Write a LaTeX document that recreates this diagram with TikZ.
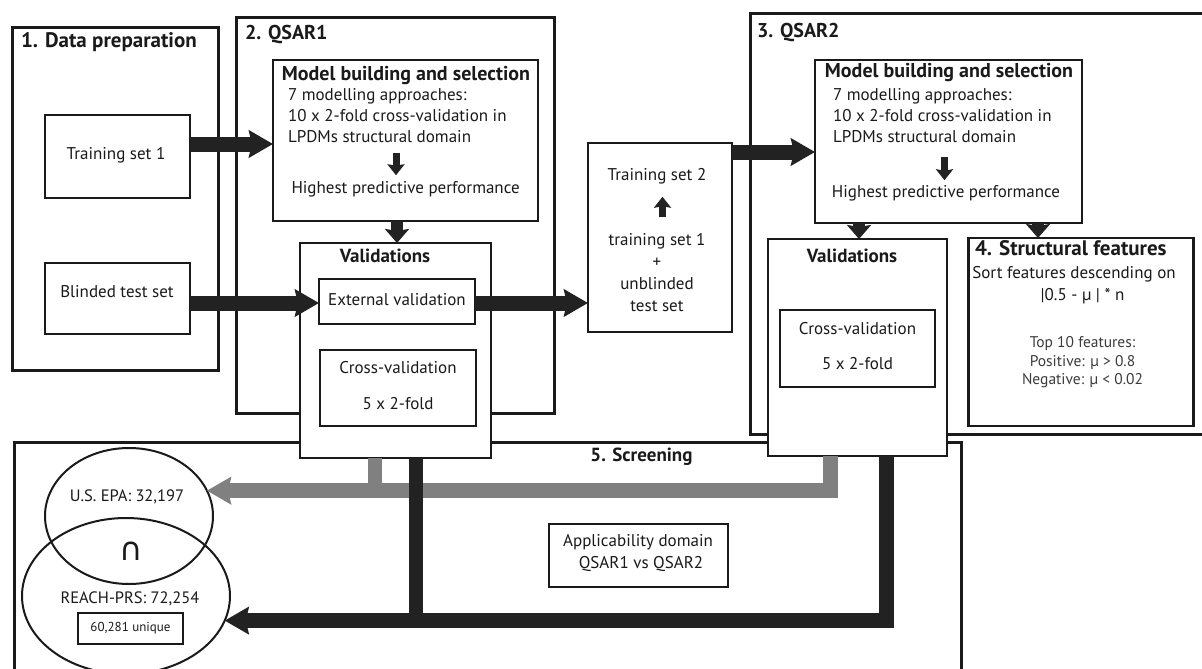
\documentclass[tikz,border=0pt]{standalone}
\usepackage{fontspec}
\setmainfont{PT Sans}
\newfontfamily\symfont{DejaVu Sans}
\usetikzlibrary{arrows.meta,calc,shapes.geometric}
\definecolor{ink}{HTML}{1A1A1A}
\definecolor{arrowink}{HTML}{222222}
\definecolor{grayink}{HTML}{808080}
\begin{document}
\begin{tikzpicture}[x=1pt,y=-1pt,
  every node/.style={inner sep=0pt, outer sep=0pt, text=ink},
  at box/.style n args={4}{minimum width={(#3)-(#1)}, minimum height={(#4)-(#2)}, at={({((#1)+(#3))/2},{((#2)+(#4))/2})}},
  frame/.style={draw=ink, line width=3pt, rectangle},
  innerbox/.style={draw=ink, line width=2.6pt, fill=white, rectangle},
  thinbox/.style={draw=ink, line width=1.5pt, fill=white, rectangle},
  txt/.style={font=\fontsize{17}{20}\selectfont, text height=12pt, text depth=3.5pt},
  settxt/.style={font=\fontsize{16.5}{19}\selectfont, text height=12pt, text depth=3.5pt},
  lighttxt/.style={font=\fontsize{15.5}{18}\selectfont, text height=11pt, text depth=3pt, text=ink!85},
  smalltxt/.style={font=\fontsize{13}{16}\selectfont, text height=9pt, text depth=3pt},
  title/.style={font=\bfseries\fontsize{20}{23}\selectfont, text height=13.5pt, text depth=4.5pt},
  bigtitle/.style={font=\bfseries\fontsize{21}{24}\selectfont, text height=14pt, text depth=4.5pt},
  subtitle/.style={font=\bfseries\fontsize{19}{22}\selectfont, text height=13pt, text depth=4.5pt},
  set/.style={draw=ink, line width=2pt, ellipse},
  bigarrow/.style={draw=arrowink, line width=15pt, -{Stealth[length=24pt,width=27pt,inset=3pt]}},
  grayarrow/.style={draw=grayink, line width=15pt, line join=miter, -{Stealth[length=24pt,width=27pt,inset=3pt]}},
  blackarrow/.style={draw=arrowink, line width=15pt, line join=miter, -{Stealth[length=24pt,width=27pt,inset=3pt]}},
  grayline/.style={draw=grayink, line width=14pt},
  blackline/.style={draw=arrowink, line width=14pt},
  midarrow/.style={draw=arrowink, line width=12.5pt, -{Stealth[length=14pt,width=24pt,inset=2pt]}},
  smallarrow/.style={draw=arrowink, line width=7pt, -{Stealth[length=11pt,width=17pt,inset=1.5pt]}}
]
\useasboundingbox (0,0) rectangle (1202,669);
\fill[white] (0,0) rectangle (1202,669);

% container frames
\node[frame, at box={12}{28}{218}{370}] (b1) {};
\node[frame, at box={236.5}{18}{554}{413}] (b2) {};
\node[frame, at box={750}{14}{1215}{434}] (b3) {};
\node[frame, at box={14}{442}{961}{690}] (b5) {};

\node[bigtitle, anchor=west] (t1) at (21,43) {1. Data preparation};
\node[title, anchor=west] (t2) at (245,35) {2. QSAR1};
\node[title, anchor=west] (t3) at (757,33) {3. QSAR2};
\node[subtitle] (t5) at (641.5,457) {5. Screening};

% data preparation
\node[innerbox, at box={45}{115}{190}{198}] (ts1) {};
\node[txt] (ts1t) at (116,155) {Training set 1};
\node[innerbox, at box={45}{263}{190}{334}] (blind) {};
\node[txt] (blindt) at (117,293) {Blinded test set};

% QSAR1
\node[innerbox, at box={273}{60}{538}{221}] (m1box) {};
\node[title] (m1t) at (406,76) {Model building and selection};
\node[txt, anchor=west] (m1a) at (288,96) {7 modelling approaches:};
\node[txt, anchor=west] (m1b) at (288,117) {10 x 2-fold cross-validation in};
\node[txt, anchor=west] (m1c) at (288,138) {LPDMs structural domain};
\node[txt] (h1) at (405.6,189) {Highest predictive performance};

\node[innerbox, at box={300}{243}{491}{458}] (val1) {};
\node[subtitle] (v1t) at (385,258) {Validations};
\node[innerbox, at box={319}{279}{475}{324}] (ext) {};
\node[txt] (extt) at (397,301) {External validation};
\node[innerbox, at box={320}{350}{476}{426}] (cv1) {};
\node[txt] (cv1a) at (398,369) {Cross-validation};
\node[txt] (cv1b) at (398,405) {5 x 2-fold};

% training set 2
\node[innerbox, at box={588}{143}{732}{332}] (ts2) {};
\node[txt] (ts2a) at (657,176) {Training set 2};
\node[txt] (ts2b) at (657,241) {training set 1};
\node[txt] (ts2c) at (657,263) {+};
\node[txt] (ts2d) at (657,285) {unblinded};
\node[txt] (ts2e) at (657,307) {test set};

% QSAR2
\node[innerbox, at box={815}{60}{1082}{223}] (m2box) {};
\node[title] (m2t) at (949,73) {Model building and selection};
\node[txt, anchor=west] (m2a) at (833,96) {7 modelling approaches:};
\node[txt, anchor=west] (m2b) at (833,117) {10 x 2-fold cross-validation in};
\node[txt, anchor=west] (m2c) at (833,138) {LPDMs structural domain};
\node[txt] (h2) at (946,193) {Highest predictive performance};

\node[innerbox, at box={768}{239}{947}{456}] (val2) {};
\node[subtitle] (v2t) at (852,258) {Validations};
\node[innerbox, at box={780}{310}{935}{387}] (cv2) {};
\node[txt] (cv2a) at (857.5,330) {Cross-validation};
\node[txt] (cv2b) at (857.5,365) {5 x 2-fold};

% structural features
\node[innerbox, at box={968.5}{238}{1193.5}{426}] (struct) {};
\node[bigtitle, anchor=west] (s4t) at (975,251) {4. Structural features};
\node[txt] (s4a) at (1074,274) {Sort features descending on};
\node[txt] (s4b) at (1082.5,296) {|0.5 - µ | * n};
\node[lighttxt] (s4c) at (1082.5,343) {Top 10 features:};
\node[lighttxt] (s4d) at (1082.5,362) {Positive: µ > 0.8};
\node[lighttxt] (s4e) at (1082.5,380) {Negative: µ < 0.02};

% screening
\node[innerbox, line width=2.3pt, at box={549}{524}{728}{587}] (adbox) {};
\node[txt] (ada) at (638,542) {Applicability domain};
\node[txt] (adb) at (641,564) {QSAR1 vs QSAR2};

\node[set, minimum width=168, minimum height=136] (epa) at (129,516) {};
\node[set, minimum width=208, minimum height=156] (reach) at (126,596) {};
\node[settxt] (epat) at (127,497) {U.S. EPA: 32,197};
\node[font=\symfont\fontsize{32}{34}\selectfont] (capsym) at (131,551) {∩};
\node[settxt] (reacht) at (130,599) {REACH-PRS: 72,254};
\node[thinbox, at box={78}{613}{183}{644}] (uniq) {};
\node[smalltxt] (uniqt) at (130.5,628.5) {60,281 unique};

% arrows
\draw[bigarrow] ($(ts1.east)+(0,-12.5)$) -- ($(m1box.west |- ts1.east)+(0,-12.5)$);
\draw[bigarrow] ($(blind.east)+(0,4.5)$) -- ($(ext.west |- blind.east)+(0,4.5)$);
\draw[bigarrow] ($(ext.east)+(0,1.5)$) -- ($(ts2.west |- ext.east)+(0,1.5)$);
\draw[bigarrow] ($(ts2.east)+(0,-85.5)$) -- ($(m2box.west |- ts2.east)+(0,-85.5)$);

\draw[midarrow] ($(m1box.south -| val1.north)+(1.5,0)$) -- ($(val1.north)+(1.5,0)$);
\draw[midarrow] ($(m2box.south -| val2.north)+(1.5,0)$) -- ($(val2.north)+(1.5,0)$);
\draw[midarrow] ($(m2box.south -| struct.north)+(-43,0)$) -- ($(struct.north)+(-43,0)$);

\draw[smallarrow] ($(h1.north |- m1c.south)+(-9.6,7)$) -- ($(h1.north)+(-9.6,-6)$);
\draw[smallarrow] ($(h2.north |- m2c.south)+(-1.5,11)$) -- ($(h2.north)+(-1.5,-5)$);
\draw[smallarrow] ($(ts2b.north)+(5.5,-16)$) -- ($(ts2a.south)+(5.5,13)$);

% screening connectors
\draw[grayarrow] ($(val2.south west)+(62,0)$) |- (epa.18);
\draw[grayline] ($(val1.south west)+(75,0)$) -- ($(val1.south west |- epa.18)+(75,0)$);
\draw[blackarrow] ($(val2.south west)+(118,0)$) |- (reach.-14);
\draw[blackline] ($(val1.south west)+(116,0)$) -- ($(val1.south west |- reach.-14)+(116,0)$);
\end{tikzpicture}
\end{document}
